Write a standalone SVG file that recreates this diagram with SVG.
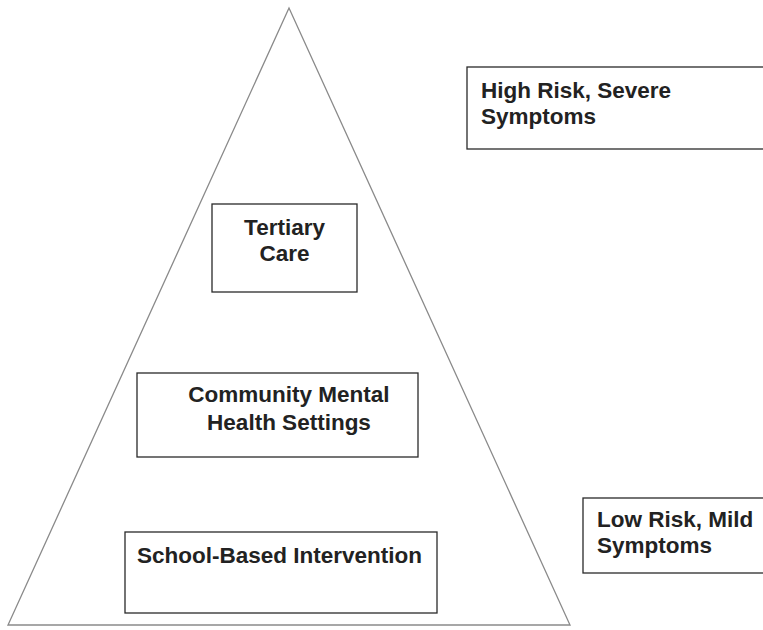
<svg xmlns="http://www.w3.org/2000/svg" width="763" height="630" viewBox="0 0 763 630">
<style>
.box{fill:#fff;stroke:#2a2a2a;stroke-width:1.3}
.t{font-family:"Liberation Sans",Arial,sans-serif;font-weight:bold;font-size:22.5px;fill:#222}
.c{text-anchor:middle}
</style>
<rect width="763" height="630" fill="#fff"/>
<g id="pyramid">
<polygon points="289,8 8,625 570,625" fill="none" stroke="#8a8a8a" stroke-width="1.3"/>
</g>
<g id="high-risk">
<rect class="box" x="467" y="67" width="300" height="82"/>
<text class="t" x="481" y="98">High Risk, Severe</text>
<text class="t" x="481" y="124">Symptoms</text>
</g>
<g id="tertiary">
<rect class="box" x="212" y="204" width="145" height="88"/>
<text class="t c" x="284.5" y="235">Tertiary</text>
<text class="t c" x="284.5" y="261">Care</text>
</g>
<g id="community">
<rect class="box" x="137" y="373" width="281" height="84"/>
<text class="t c" x="289" y="402">Community Mental</text>
<text class="t c" x="289" y="430">Health Settings</text>
</g>
<g id="school">
<rect class="box" x="125" y="532" width="312" height="81"/>
<text class="t" x="137" y="563">School-Based Intervention</text>
</g>
<g id="low-risk">
<rect class="box" x="583" y="498" width="184" height="75"/>
<text class="t" x="597" y="527">Low Risk, Mild</text>
<text class="t" x="597" y="553">Symptoms</text>
</g>
<g id="connectors"></g>
</svg>
